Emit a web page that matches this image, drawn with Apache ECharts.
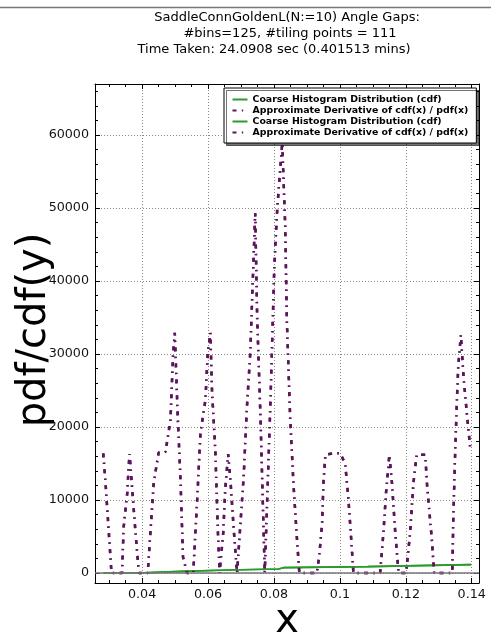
<!DOCTYPE html>
<html><head><meta charset="utf-8">
<script src="https://cdn.jsdelivr.net/npm/echarts@6/dist/echarts.min.js"></script>
<style>html,body{margin:0;padding:0;background:#fff}#c{width:491px;height:643px}</style>
</head><body><div id="c"></div>
<script>
// ---------- data ----------
const titleLines = [
  'SaddleConnGoldenL(N:=10) Angle Gaps:',
  '#bins=125, #tiling points = 111',
  'Time Taken: 24.0908 sec (0.401513 mins)'
];
const xLabel = 'x';
const yLabel = 'pdf/cdf(y)';
const cdfName = 'Coarse Histogram Distribution (cdf)';
const pdfName = 'Approximate Derivative of cdf(x) / pdf(x)';

const xMajorTicks = [0.04, 0.06, 0.08, 0.1, 0.12, 0.14];
const xMinorTicks = [0.03, 0.035, 0.04, 0.045, 0.05, 0.055, 0.06, 0.065, 0.07, 0.075, 0.08, 0.085, 0.09, 0.095, 0.1, 0.105, 0.11, 0.115, 0.12, 0.125, 0.13, 0.135, 0.14];
const yMajorTicks = [0, 10000, 20000, 30000, 40000, 50000, 60000];
const yMinorTicks = [0, 2000, 4000, 6000, 8000, 10000, 12000, 14000, 16000, 18000, 20000, 22000, 24000, 26000, 28000, 30000, 32000, 34000, 36000, 38000, 40000, 42000, 44000, 46000, 48000, 50000, 52000, 54000, 56000, 58000, 60000, 62000, 64000, 66000];

const xRange = [0.0257, 0.1422];
const yRange = [-1370, 67000];

const cdfX = [0.0282, 0.0385, 0.0440, 0.0521, 0.0662, 0.0814, 0.0829, 0.1084, 0.1238, 0.1398];
const cdfY = [0, 91, 228, 411, 548, 731, 868, 1005, 1142, 1142];

const pdfX = [
  0.0282, 0.0289, 0.0299, 0.0307,
  0.0339, 0.0344, 0.0355, 0.0359, 0.0362, 0.0370, 0.0380, 0.0390,
  0.0417, 0.0425, 0.0435, 0.0450, 0.0471, 0.0486, 0.0494, 0.0499, 0.0508, 0.0516, 0.0524, 0.0536,
  0.0555, 0.0567, 0.0577, 0.0592, 0.0599, 0.0607, 0.0612, 0.0622, 0.0630, 0.0635,
  0.0646, 0.0652, 0.0661, 0.0668, 0.0678, 0.0688,
  0.0708, 0.0718, 0.0728, 0.0735, 0.0743, 0.0749, 0.0759, 0.0772,
  0.0789, 0.0801, 0.0810, 0.0825, 0.0834, 0.0839, 0.0849, 0.0859, 0.0870, 0.0877,
  0.0930, 0.0937, 0.0946, 0.0950, 0.0956, 0.0961, 0.0981, 0.1001, 0.1016, 0.1026, 0.1033, 0.1041,
  0.1122, 0.1132, 0.1140, 0.1147, 0.1150, 0.1158, 0.1168, 0.1178,
  0.1201, 0.1213, 0.1223, 0.1233, 0.1259, 0.1264, 0.1279, 0.1286,
  0.1341, 0.1344, 0.1349, 0.1355, 0.1359, 0.1367, 0.1375, 0.1385, 0.1395
];
const pdfY = [
  16400, 12300, 5500, 0,
  0, 6300, 11000, 14600, 16300, 11400, 5500, 0,
  0, 5500, 12300, 16500, 16600, 21000, 30100, 32900, 21400, 13200, 2200, 0,
  0, 10000, 19200, 23700, 30100, 32900, 25000, 16800, 5500, 0,
  5500, 11400, 16300, 12700, 5900, 0,
  13200, 22800, 30100, 39200, 49300, 35000, 21400, 0,
  23000, 42000, 50000, 58900, 47700, 34700, 21400, 12300, 4500, 0,
  0, 2200, 6800, 12300, 16200, 16400, 16400, 16400, 15000, 10000, 5500, 0,
  0, 5500, 11000, 14600, 16200, 12300, 5500, 0,
  0, 5500, 12300, 16200, 16200, 12300, 4500, 0,
  0, 7300, 15500, 23700, 28300, 32600, 26900, 21900, 17300
];

// ---------- chart ----------
const FONT = 'DejaVu Sans';
const GREEN = '#2a9a2a';
const PURPLE = '#5c145c';
const DASHDOT = [4, 5.3, 1.4, 5.3];
const cdfData = cdfX.map((x, i) => [x, cdfY[i]]);
const pdfData = pdfX.map((x, i) => [x, pdfY[i]]);
const fmtX = v => String(parseFloat(Number(v).toFixed(3)));
const fmtY = v => String(Math.round(v));

function xAxisDef(pos, ticks, len, major) {
  return {
    type: 'value', min: xRange[0], max: xRange[1], position: pos,
    axisLine: { show: major, onZero: false, lineStyle: { color: '#000', width: 1 } },
    axisTick: { show: true, inside: true, length: len, customValues: ticks, lineStyle: { color: '#000', width: 1 } },
    axisLabel: (pos === 'bottom' && major) ? { show: true, customValues: ticks, formatter: fmtX, color: '#111', fontFamily: FONT, fontSize: 12.7, margin: 5 } : { show: false },
    splitLine: (pos === 'bottom' && major) ? { show: true, lineStyle: { color: '#888', width: 1, type: [1, 2] } } : { show: false }
  };
}
function yAxisDef(pos, ticks, len, major) {
  return {
    type: 'value', min: yRange[0], max: yRange[1], position: pos,
    axisLine: { show: major, onZero: false, lineStyle: { color: '#000', width: 1 } },
    axisTick: { show: true, inside: true, length: len, customValues: ticks, lineStyle: { color: '#000', width: 1 } },
    axisLabel: (pos === 'left' && major) ? { show: true, customValues: ticks, formatter: fmtY, color: '#111', fontFamily: FONT, fontSize: 12.7, margin: 6 } : { show: false },
    splitLine: (pos === 'left' && major) ? { show: true, lineStyle: { color: '#888', width: 1, type: [1, 2] } } : { show: false }
  };
}

function lineSeries(name, data, color, width, type, extra) {
  return Object.assign({
    name, type: 'line', data, xAxisIndex: 0, yAxisIndex: 0,
    symbol: 'none', showSymbol: false, clip: true,
    lineStyle: { color, width, type },
    itemStyle: { color }
  }, extra || {});
}

const chart = echarts.init(document.getElementById('c'), null, { renderer: 'canvas' });
chart.setOption({
  animation: false,
  backgroundColor: '#fff',
  grid: { left: 95, right: 12, top: 84, bottom: 60, containLabel: false },
  xAxis: [
    xAxisDef('bottom', xMajorTicks, 5, true),
    xAxisDef('bottom', xMinorTicks, 3, false),
    xAxisDef('top', xMajorTicks, 5, true),
    xAxisDef('top', xMinorTicks, 3, false)
  ],
  yAxis: [
    yAxisDef('left', yMajorTicks, 5, true),
    yAxisDef('left', yMinorTicks, 3, false),
    yAxisDef('right', yMajorTicks, 5, true),
    yAxisDef('right', yMinorTicks, 3, false)
  ],
  legend: {
    data: [cdfName, pdfName, cdfName + '\u200b', pdfName + '\u200b'],
    orient: 'vertical', left: 224, top: 88,
    padding: [6, 8, 5, 7.5],
    itemWidth: 15, itemHeight: 11, itemGap: 0,
    selectedMode: false,
    itemStyle: { color: 'rgba(0,0,0,0)', borderWidth: 0, opacity: 0 },
    backgroundColor: '#fff', borderColor: '#000', borderWidth: 1, borderRadius: 0,
    shadowColor: 'rgba(0,0,0,0.55)', shadowOffsetX: 2.5, shadowOffsetY: 2.5, shadowBlur: 0,
    textStyle: { fontFamily: FONT, fontWeight: 'bold', fontSize: 9.4, color: '#000', lineHeight: 11 }
  },
  series: [
    lineSeries(cdfName, cdfData, GREEN, 1.6, 'solid', {
      step: 'end',
      markLine: {
        silent: true, symbol: 'none', label: { show: false },
        lineStyle: { color: '#777', width: 1.6, type: 'solid' },
        data: [{ yAxis: 0 }]
      }
    }),
    lineSeries(pdfName, pdfData, PURPLE, 2.5, DASHDOT),
    lineSeries(cdfName + '\u200b', cdfData, GREEN, 1.6, 'solid', { step: 'end' }),
    lineSeries(pdfName + '\u200b', pdfData, PURPLE, 2.5, DASHDOT)
  ],
  graphic: [
    { type: 'line', shape: { x1: 0, y1: 7.5, x2: 491, y2: 7.5 }, style: { stroke: '#777', lineWidth: 1.5 }, silent: true },
    { type: 'text', x: 287, y: 18, style: { text: titleLines[0], font: '13px "DejaVu Sans"', fill: '#000', textAlign: 'center', textVerticalAlign: 'middle' } },
    { type: 'text', x: 290, y: 34, style: { text: titleLines[1], font: '13px "DejaVu Sans"', fill: '#000', textAlign: 'center', textVerticalAlign: 'middle' } },
    { type: 'text', x: 274, y: 50, style: { text: titleLines[2], font: '13px "DejaVu Sans"', fill: '#000', textAlign: 'center', textVerticalAlign: 'middle' } },
    { type: 'text', x: 287, y: 622, style: { text: xLabel, font: '40px "DejaVu Sans"', fill: '#000', textAlign: 'center', textVerticalAlign: 'middle' } },
    { type: 'text', x: 35, y: 330, rotation: Math.PI / 2, style: { text: yLabel, font: '40px "DejaVu Sans"', fill: '#000', textAlign: 'center', textVerticalAlign: 'middle' } }
  ]
});
</script>
</body></html>
